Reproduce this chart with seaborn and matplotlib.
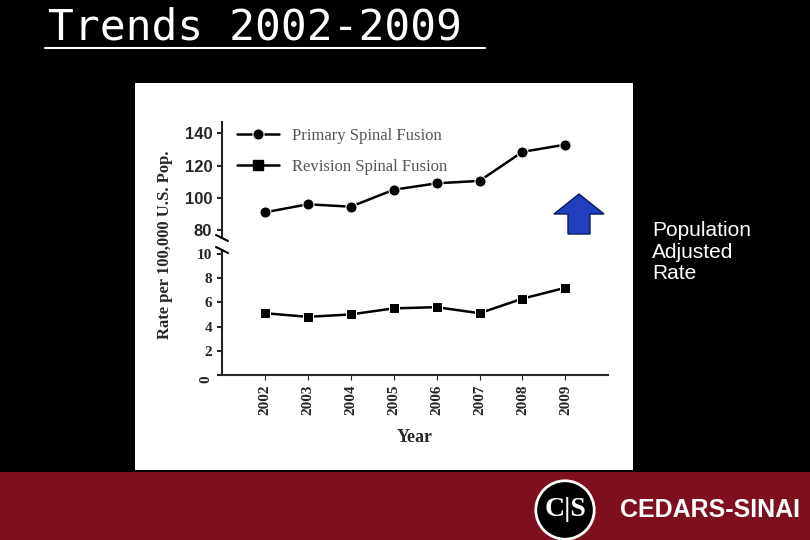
import matplotlib
matplotlib.use("Agg")
import matplotlib.pyplot as plt
import seaborn as sns
import pandas as pd
from matplotlib.patches import FancyArrow

years = [2002, 2003, 2004, 2005, 2006, 2007, 2008, 2009]
primary = [91, 96, 94.5, 105, 109, 110.5, 128.5, 133]
revision = [5.1, 4.8, 5.0, 5.5, 5.6, 5.1, 6.3, 7.2]

df = pd.DataFrame({"Year": years, "Primary": primary, "Revision": revision})

sns.set_style("ticks")
plt.rcParams['font.family'] = ['Liberation Serif', 'DejaVu Serif']

fig = plt.figure(figsize=(8.1, 5.4), dpi=100)
fig.patch.set_facecolor("black")

# white chart panel and red footer as background axes
bg = fig.add_axes([135/810, 1-470/540, 498/810, 387/540], zorder=-2)
bg.set_facecolor("white")
bg.set_xticks([]); bg.set_yticks([])
for s in bg.spines.values():
    s.set_visible(False)
foot = fig.add_axes([0, 0, 1, 68/540], zorder=-2)
foot.set_facecolor("#7d0f1f")
foot.set_xticks([]); foot.set_yticks([])
for s in foot.spines.values():
    s.set_visible(False)

ax_top = fig.add_axes([0.274, 0.559, 0.477, 0.215])
ax_bot = fig.add_axes([0.274, 0.3056, 0.477, 0.231])
for ax in (ax_top, ax_bot):
    ax.set_facecolor("none")
    ax.set_xlim(2001, 2010)
    sns.despine(ax=ax)
    for s in ("left", "bottom"):
        ax.spines[s].set_linewidth(1.5)

sns.lineplot(data=df, x="Year", y="Primary", marker="o", markersize=8, color="black",
             lw=1.8, ax=ax_top, label="Primary Spinal Fusion")
sns.lineplot(data=df, x="Year", y="Revision", marker="s", markersize=7, color="black",
             lw=1.8, ax=ax_bot)
ax_top.plot([], [], marker="s", color="black", lw=1.8, markersize=7, label="Revision Spinal Fusion")
ax_top.legend(loc="upper left", frameon=False, fontsize=12, handlelength=2.5,
              bbox_to_anchor=(0.0, 1.08), labelspacing=0.9)
for t in ax_top.get_legend().get_texts():
    t.set_color("#555555")

ax_top.set_ylim(75, 147)
ax_top.set_yticks([80, 100, 120, 140])
ax_top.spines["bottom"].set_visible(False)
ax_top.set_xticks([])
ax_top.set_xlabel("")
ax_top.set_ylabel("")
ax_top.tick_params(axis="y", labelsize=12, width=1.5)
for lab in ax_top.get_yticklabels():
    lab.set_fontfamily(["Liberation Sans", "DejaVu Sans"])
    lab.set_fontweight("bold")

ax_bot.set_ylim(0, 10.3)
ax_bot.set_yticks([0, 2, 4, 6, 8, 10])
ax_bot.set_yticklabels(["", "2", "4", "6", "8", "10"])
ax_bot.set_xticks(years)
ax_bot.set_xticklabels([str(y) for y in years], rotation=90, fontweight="bold", fontsize=11)
ax_bot.tick_params(axis="y", labelsize=11, width=1.5)
for lab in ax_bot.get_yticklabels():
    lab.set_fontweight("bold")
ax_bot.set_ylabel("")
ax_bot.set_xlabel("Year", fontsize=13, fontweight="bold", labelpad=10)
ax_bot.text(-0.025, 0, "0", transform=ax_bot.transAxes, rotation=90, ha="right", va="top",
            fontsize=11, fontweight="bold")

fig.text(165/810, 1-245/540, "Rate per 100,000 U.S. Pop.", rotation=90, ha="center", va="center",
         fontsize=12, fontweight="bold")

# break marks
for y in (238, 250):
    fig.lines.append(plt.Line2D([216/810, 228/810], [1-(y-3)/540, 1-(y+3)/540],
                                transform=fig.transFigure, color="black", lw=1.5))

# title
fig.text(48/810, 1-27/540, "Trends 2002-2009", color="white", fontsize=31,
         family=["DejaVu Sans Mono"], va="center")
fig.lines.append(plt.Line2D([45/810, 485/810], [1-48/540, 1-48/540], transform=fig.transFigure,
                            color="white", lw=1.5))

# blue arrow
fig.patches.append(FancyArrow(579/810, 1-234/540, 0, 40/540, width=22/810, head_width=50/810,
                              head_length=20/540, length_includes_head=True, transform=fig.transFigure,
                              facecolor="#1f3fbf", edgecolor="#0a1a60", lw=1))

fig.text(652/810, 1-252/540, "Population\nAdjusted\nRate", color="white", fontsize=15,
         family=["Liberation Sans", "DejaVu Sans"], va="center", linespacing=1.15)

# footer logo
fig.text(565/810, 1-510/540, "C|S", color="white", fontsize=20, ha="center", va="center",
         fontweight="bold", bbox=dict(boxstyle="circle", fc="black", ec="white", lw=2))
fig.text(620/810, 1-510/540, "CEDARS-SINAI", color="white", fontsize=18, va="center",
         fontweight="bold", family=["Liberation Sans", "DejaVu Sans"])

fig.savefig("out.png", dpi=100, facecolor=fig.get_facecolor())
